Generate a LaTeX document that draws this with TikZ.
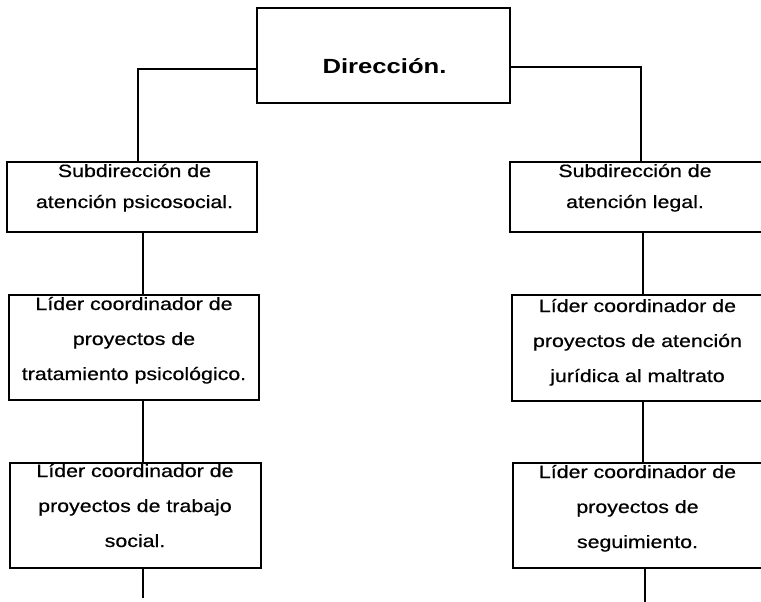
\documentclass[tikz,border=0pt]{standalone}
\usepackage{fontspec}
\setmainfont{Liberation Sans}
\newfontfamily\boxfont[FakeStretch=1.2,FakeBold=0.6]{Liberation Sans}
\newfontfamily\dirfont[FakeStretch=1.25]{Liberation Sans}
\begin{document}
\begin{tikzpicture}[x=1pt,y=-1pt,
  box/.style={draw, line width=1.5pt, rectangle, inner sep=0pt},
  txt/.style={font=\boxfont\fontsize{17.8}{35}\selectfont, align=center, inner sep=0pt, anchor=base},
  link/.style={line width=1.5pt}]
\useasboundingbox (0,0) rectangle (761,602);
\clip (0,0) rectangle (761,602);
% boxes
\node[box, minimum width=253pt, minimum height=95pt] (dir) at (383.5,55.5) {};
\node[box, minimum width=250pt, minimum height=70pt] (ls1) at (132,197) {};
\node[box, minimum width=250pt, minimum height=105pt] (ls2) at (134,347.5) {};
\node[box, minimum width=251pt, minimum height=105pt] (ls3) at (135.5,515.5) {};
\node[box, minimum width=270pt, minimum height=70pt] (rs1) at (645,197) {};
\node[box, minimum width=268pt, minimum height=106pt] (rs2) at (646,348) {};
\node[box, minimum width=267pt, minimum height=105pt] (rs3) at (646.5,515.5) {};
% texts
\node[font=\dirfont\bfseries\fontsize{20.5}{24}\selectfont, inner sep=0pt, anchor=base] (dirt) at (384.5,74) {Dirección.};
\node[txt, font=\boxfont\fontsize{17.8}{31}\selectfont] (ls1t) at (134.5,208) {Subdirección de\\atención psicosocial.};
\node[txt] (ls2t) at (134,380) {Líder coordinador de\\proyectos de\\tratamiento psicológico.};
\node[txt] (ls3t) at (135,547) {Líder coordinador de\\proyectos de trabajo\\social.};
\node[txt, font=\boxfont\fontsize{17.8}{31}\selectfont] (rs1t) at (635,208) {Subdirección de\\atención legal.};
\node[txt] (rs2t) at (637.5,382) {Líder coordinador de\\proyectos de atención\\jurídica al maltrato};
\node[txt] (rs3t) at (637.5,548) {Líder coordinador de\\proyectos de\\seguimiento.};
% connector coordinates
\coordinate (jl) at (138,69);
\coordinate (jr) at (641,67);
\coordinate (vl) at (143,0);
\coordinate (vr) at (643,0);
\coordinate (el) at (143,598);
\coordinate (er) at (645,602);
% connectors
\draw[link] (dir.west |- jl) -- (jl) -- (jl |- ls1.north);
\draw[link] (dir.east |- jr) -- (jr) -- (jr |- rs1.north);
\draw[link] (vl |- ls1.south) -- (vl |- ls2.north);
\draw[link] (vl |- ls2.south) -- (vl |- ls3.north);
\draw[link] (vl |- ls3.south) -- (el);
\draw[link] (vr |- rs1.south) -- (vr |- rs2.north);
\draw[link] (vr |- rs2.south) -- (vr |- rs3.north);
\draw[link] (er |- rs3.south) -- (er);
\end{tikzpicture}
\end{document}
